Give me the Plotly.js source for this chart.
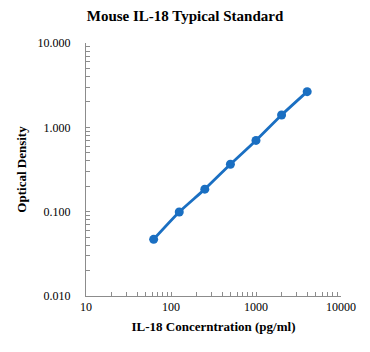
<!DOCTYPE html>
<html><head><meta charset="utf-8">
<script src="https://cdn.plot.ly/plotly-3.0.1.min.js"></script>
<style>html,body{margin:0;padding:0;background:#fff}#c{width:370px;height:352px}</style>
</head><body><div id="c"></div>
<script>
const concentration = [62.5, 125, 250, 500, 1000, 2000, 4000];
const opticalDensity = [0.047, 0.099, 0.185, 0.365, 0.70, 1.40, 2.65];
const xTicks = [10, 100, 1000, 10000];
const xTickText = ["10", "100", "1000", "10000"];
const yTicks = [0.01, 0.1, 1, 10];
const yTickText = ["0.010", "0.100", "1.000", "10.000"];
const minorMult = [2, 3, 4, 5, 6, 7, 8, 9];

// major ticks labelled, minor (2..9 per decade) unlabelled
function allTicks(decades, labels) {
  const vals = [], text = [];
  decades.forEach((d, i) => {
    vals.push(d); text.push(labels[i]);
    if (i < decades.length - 1) minorMult.forEach(m => { vals.push(d * m); text.push(""); });
  });
  return {vals, text};
}
const xt = allTicks(xTicks, xTickText);
const yt = allTicks(yTicks, yTickText);

const serif = "Liberation Serif, Times New Roman, serif";
const axisCol = "#8c8c8c";
Plotly.newPlot("c", [{
  x: concentration, y: opticalDensity, type: "scatter", mode: "lines+markers",
  line: {color: "#1a6fc2", width: 2.8, shape: "spline", smoothing: 0.6},
  marker: {color: "#1a6fc2", size: 9}
}], {
  width: 370, height: 352,
  margin: {l: 86, r: 29, t: 43, b: 56},
  paper_bgcolor: "#fff", plot_bgcolor: "#fff",
  showlegend: false,
  title: {text: "<b>Mouse IL-18 Typical Standard</b>", x: 0.5, xanchor: "center", y: 0.955, yanchor: "middle",
          font: {family: serif, size: 15, color: "#000"}},
  xaxis: {type: "log", range: [1, 4], tickmode: "array", tickvals: xt.vals, ticktext: xt.text,
          showgrid: false, zeroline: false, showline: true, linecolor: axisCol, linewidth: 1,
          ticks: "inside", ticklen: 4, tickcolor: axisCol,
          tickfont: {family: serif, size: 12, color: "#000"},
          title: {text: "<b>IL-18 Concerntration (pg/ml)</b>", standoff: 8, font: {family: serif, size: 13, color: "#000"}}},
  yaxis: {type: "log", range: [-2, 1], tickmode: "array", tickvals: yt.vals, ticktext: yt.text,
          showgrid: false, zeroline: false, showline: true, linecolor: axisCol, linewidth: 1,
          ticks: "inside", ticklen: 4, tickcolor: axisCol, ticklabelstandoff: 12,
          tickfont: {family: serif, size: 12, color: "#000"},
          title: {text: "<b>Optical Density</b>", standoff: 8, font: {family: serif, size: 13, color: "#000"}}}
}, {staticPlot: true, displayModeBar: false});
</script></body></html>
